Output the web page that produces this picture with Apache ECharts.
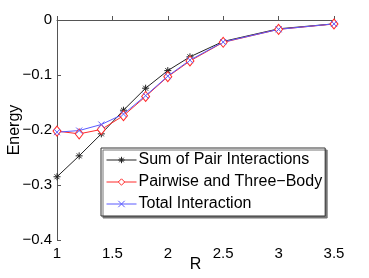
<!DOCTYPE html>
<html>
<head>
<meta charset="utf-8">
<style>html,body{margin:0;padding:0;background:#fff;}#c{width:369px;height:278px;}</style>
<script src="https://cdn.jsdelivr.net/npm/echarts@6/dist/echarts.min.js"></script>
</head>
<body>
<div id="c"></div>
<script>
const R = [1, 1.2, 1.4, 1.6, 1.8, 2, 2.2, 2.5, 3, 3.5];
const sumPair = [-0.285, -0.247, -0.207, -0.164, -0.124, -0.092, -0.067, -0.039, -0.016, -0.007];
const pairThree = [-0.202, -0.207, -0.199, -0.174, -0.139, -0.103, -0.0745, -0.0406, -0.017, -0.0073];
const total = [-0.204, -0.201, -0.190, -0.171, -0.1376, -0.102, -0.073, -0.040, -0.017, -0.007];
const seriesNames = ['Sum of Pair Interactions', 'Pairwise and Three\u2212Body', 'Total Interaction'];
const xTicks = [1, 1.5, 2, 2.5, 3, 3.5];
const yTicks = [-0.4, -0.3, -0.2, -0.1, 0];

const FONT = 'Liberation Sans';
const star = 'path://M5,0 L5,10 M0,5 L10,5 M1.5,1.5 L8.5,8.5 M8.5,1.5 L1.5,8.5';
const cross = 'path://M0,0 L10,10 M10,0 L0,10';
function pts(ys) { return R.map((r, i) => [r, ys[i]]); }
function fmt(v) {
  const s = (Math.round(v * 10) / 10).toString();
  return s.replace('-', '\u2212');
}
const chart = echarts.init(document.getElementById('c'), null, {renderer: 'canvas'});
chart.setOption({
  animation: false,
  backgroundColor: '#fff',
  textStyle: {fontFamily: FONT},
  grid: {left: 57, right: 35, top: 20, bottom: 38, containLabel: false, outerBoundsMode: 'none'},
  xAxis: {
    type: 'value', min: xTicks[0], max: xTicks[xTicks.length - 1], interval: 0.5,
    name: 'R', nameLocation: 'middle', nameGap: 17, nameMoveOverlap: false,
    nameTextStyle: {fontSize: 16, color: '#000', fontFamily: FONT},
    axisLine: {lineStyle: {color: '#555', width: 1}},
    axisTick: {inside: true, length: 4, lineStyle: {color: '#555'}},
    axisLabel: {fontSize: 15, color: '#000', margin: 6, fontFamily: FONT, formatter: v => String(v)},
    splitLine: {show: false}
  },
  yAxis: {
    type: 'value', min: yTicks[0], max: yTicks[yTicks.length - 1], interval: 0.1,
    name: 'Energy', nameLocation: 'middle', nameGap: 34, nameMoveOverlap: false,
    nameTextStyle: {fontSize: 16, color: '#000', fontFamily: FONT},
    axisLine: {show: true, lineStyle: {color: '#555', width: 1}},
    axisTick: {show: true, inside: true, length: 4, lineStyle: {color: '#555'}},
    axisLabel: {fontSize: 15, color: '#000', margin: 5, fontFamily: FONT, formatter: fmt},
    splitLine: {show: false}
  },
  legend: {
    orient: 'vertical', left: 101, top: 148,
    padding: [4, 3, 4, 5], itemGap: 6, itemWidth: 30, itemHeight: 8,
    backgroundColor: '#fff', borderColor: '#333', borderWidth: 1,
    shadowColor: '#777', shadowOffsetX: 2, shadowOffsetY: 2, shadowBlur: 0,
    lineStyle: {width: 1},
    itemStyle: {borderWidth: 1},
    textStyle: {fontSize: 16, color: '#000', fontFamily: FONT, padding: [0, 0, 0, -3]},
    data: seriesNames
  },
  series: [
    {name: seriesNames[0], type: 'line', data: pts(sumPair), symbol: star, symbolSize: 7,
     lineStyle: {color: '#222', width: 1}, itemStyle: {color: 'none', borderColor: '#222', borderWidth: 1}},
    {name: seriesNames[1], type: 'line', data: pts(pairThree), symbol: 'diamond', symbolSize: [8, 10],
     lineStyle: {color: '#ff2a2a', width: 1}, itemStyle: {color: '#fff', borderColor: '#ff2a2a', borderWidth: 1}},
    {name: seriesNames[2], type: 'line', data: pts(total), symbol: cross, symbolSize: 6,
     lineStyle: {color: '#5a5aff', width: 1}, itemStyle: {color: 'none', borderColor: '#5a5aff', borderWidth: 1}}
  ]
});
</script>
</body>
</html>
